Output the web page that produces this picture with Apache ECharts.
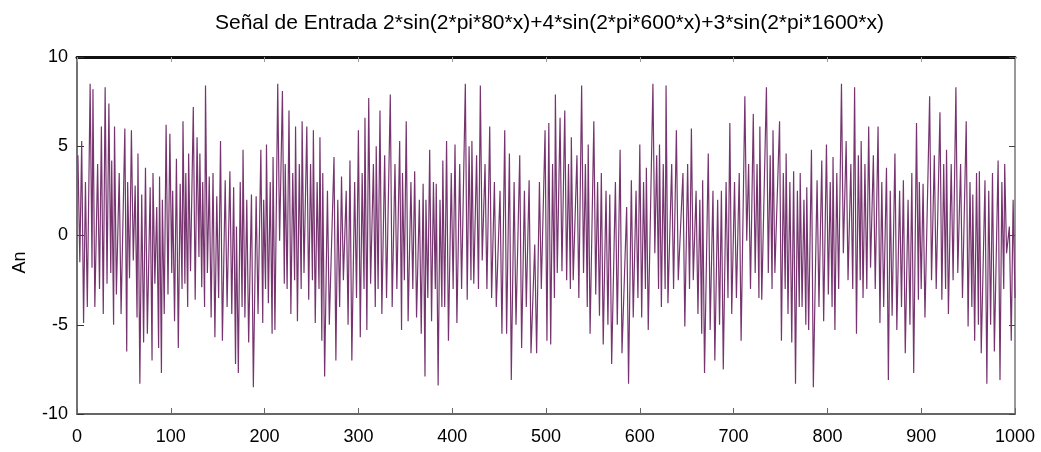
<!DOCTYPE html>
<html>
<head>
<meta charset="utf-8">
<title>Señal de Entrada</title>
<script src="https://cdn.jsdelivr.net/npm/echarts@6/dist/echarts.min.js"></script>
<style>
html, body { margin: 0; padding: 0; background: #fff; }
#main { width: 1041px; height: 452px; }
</style>
</head>
<body>
<div id="main"></div>
<script>
// each stroke of the trace: sample index, the top it reaches, then the bottom
var strokeX = [
  1, 5, 9, 14, 17, 22, 26, 30, 34, 37,
  40, 45, 51, 54, 58, 62, 65, 69, 73, 78,
  81, 85, 88, 91, 95, 99, 102, 106, 110, 113,
  116, 119, 124, 128, 131, 134, 137, 141, 145, 149,
  153, 158, 163, 167, 170, 174, 177, 181, 186, 191,
  196, 199, 202, 206, 209, 214, 219, 222, 226, 230,
  233, 237, 240, 245, 249, 252, 256, 259, 262, 267,
  274, 278, 282, 287, 291, 296, 300, 304, 307, 311,
  316, 319, 323, 328, 334, 339, 344, 347, 351, 356,
  360, 365, 369, 372, 376, 380, 383, 387, 390, 394,
  399, 403, 408, 414, 418, 421, 426, 430, 435, 440,
  445, 451, 456, 461, 466, 472, 477, 482, 488, 493,
  499, 503, 507, 510, 515, 520, 524, 527, 533, 538,
  542, 545, 551, 555, 559, 564, 568, 574, 579, 586,
  591, 596, 600, 604, 607, 614, 618, 621, 625, 628,
  634, 639, 646, 651, 655, 660, 664, 667, 673, 678,
  683, 687, 692, 696, 701, 706, 712, 716, 721, 725,
  728, 735, 739, 742, 749, 753, 756, 760, 764, 768,
  771, 775, 778, 783, 789, 794, 799, 803, 806, 810,
  815, 820, 825, 829, 833, 836, 840, 844, 849, 854,
  858, 863, 867, 872, 877, 881, 886, 890, 895, 898,
  902, 909, 914, 920, 924, 927, 932, 937, 942, 948,
  952, 955, 959, 962, 968, 972, 976, 982, 986, 989,
  994, 998
];
var strokeHigh = [
  4.5, 5.3, 3.0, 8.5, 8.2, 4.0, 6.1, 8.3, 7.4, 4.2,
  6.1, 3.5, 6.0, 3.0, 5.9, 2.8, 4.6, 2.3, 3.8, 2.7,
  3.5, 1.6, 3.3, 2.0, 6.2, 5.7, 2.5, 4.3, 2.9, 6.4,
  3.5, 4.6, 7.2, 5.5, 4.6, 3.0, 8.4, 3.3, 3.5, 2.2,
  5.3, 3.1, 3.6, 2.7, 0.5, 3.0, 4.8, 2.0, 2.3, 2.2,
  4.8, 2.0, 5.1, 3.0, 4.4, 8.5, 8.1, 4.0, 7.0, 3.5,
  6.1, 4.0, 6.4, 6.1, 4.0, 5.9, 3.0, 5.5, 3.5, 2.5,
  4.4, 2.0, 3.3, 2.5, 4.2, 3.0, 5.9, 3.5, 6.6, 7.7,
  4.0, 5.0, 7.0, 4.5, 7.9, 4.0, 5.3, 3.5, 6.4, 3.0,
  3.6, 2.0, 2.9, 2.0, 4.8, 3.0, 2.9, 2.0, 4.2, 5.3,
  3.5, 5.1, 4.0, 8.5, 5.0, 5.3, 4.5, 8.4, 4.0, 6.1,
  3.0, 2.5, 5.9, 4.6, 3.0, 4.5, 2.5, 3.1, -0.5, 3.0,
  5.9, 6.3, 4.0, 7.9, 6.6, 7.0, 4.0, 5.5, 4.5, 8.4,
  4.0, 5.1, 6.4, 3.0, 3.5, 2.5, 2.3, 3.0, 4.8, 1.6,
  3.1, 2.5, 5.1, 3.0, 3.8, 8.5, 4.5, 5.1, 4.0, 8.4,
  4.0, 5.9, 3.5, 4.0, 6.0, 2.5, 2.0, 3.1, 4.6, 2.5,
  2.0, 2.5, 3.0, 6.3, 3.0, 3.5, 7.8, 4.0, 6.8, 4.0,
  6.1, 8.3, 4.5, 5.9, 6.4, 3.5, 4.6, 3.0, 3.6, 2.5,
  3.5, 2.0, 2.7, 4.8, 3.1, 4.2, 5.1, 3.0, 4.4, 3.5,
  8.5, 5.3, 4.0, 8.3, 4.5, 5.3, 4.0, 6.1, 4.5, 6.1,
  3.0, 3.8, 2.5, 4.6, 2.5, 3.1, 2.0, 3.5, 6.3, 3.0,
  2.9, 7.8, 4.5, 6.9, 4.0, 4.8, 4.0, 8.3, 4.0, 6.4,
  3.0, 2.3, 3.5, 3.6, 3.1, 2.5, 3.5, 4.2, 3.0, 4.0,
  0.5, 2.0
];
var strokeLow = [
  -1.5, -4.9, -4.0, -1.8, -4.0, -3.0, -4.4, -2.7, -2.1, -5.0,
  -3.3, -4.4, -6.5, -2.4, -1.4, -4.6, -8.3, -6.0, -5.5, -7.0,
  -2.7, -6.3, -7.7, -4.4, -3.3, -2.1, -4.8, -6.3, -3.0, -2.7,
  -4.0, -2.0, -3.6, -1.2, -2.9, -4.0, -2.1, -4.6, -5.7, -3.5,
  -5.9, -4.0, -4.4, -7.2, -7.7, -4.0, -4.6, -6.0, -8.5, -4.4,
  -4.9, -3.0, -3.8, -5.5, -5.3, -0.3, -2.7, -3.0, -4.4, -2.5,
  -4.8, -3.0, -2.1, -3.6, -2.5, -4.9, -3.0, -5.9, -7.9, -5.0,
  -7.0, -4.0, -2.5, -5.0, -7.0, -3.5, -5.7, -3.0, -5.3, -2.7,
  -4.0, -3.0, -4.4, -3.5, -4.0, -3.0, -5.3, -2.5, -4.8, -3.0,
  -4.6, -5.5, -7.9, -3.5, -4.8, -3.0, -8.4, -4.0, -4.0, -5.9,
  -3.0, -4.9, -3.0, -3.6, -2.5, -2.7, -3.0, -1.4, -3.0, -3.5,
  -4.0, -5.5, -5.5, -8.1, -5.0, -6.3, -4.0, -6.6, -6.6, -3.0,
  -5.9, -6.1, -3.5, -2.1, -2.0, -2.5, -3.0, -2.5, -3.5, -2.1,
  -4.0, -5.5, -3.3, -4.5, -6.1, -5.0, -7.2, -5.0, -6.6, -8.3,
  -4.6, -3.5, -4.6, -3.0, -5.3, -1.0, -3.0, -4.0, -3.0, -3.8,
  -3.0, -2.5, -5.1, -3.0, -2.5, -4.4, -5.5, -7.7, -5.3, -7.0,
  -5.0, -7.5, -3.5, -4.4, -3.5, -5.9, -0.3, -3.0, -2.1, -3.5,
  -3.6, -2.1, -3.0, -2.1, -5.9, -3.0, -4.4, -6.0, -8.3, -4.0,
  -4.0, -5.0, -5.3, -8.5, -4.0, -4.8, -3.3, -4.0, -5.3, -3.0,
  -1.0, -2.5, -3.0, -5.5, -2.5, -3.5, -3.0, -1.8, -3.0, -4.9,
  -4.0, -8.1, -4.5, -5.3, -4.0, -6.6, -5.0, -7.7, -3.6, -3.0,
  -4.6, -2.5, -3.0, -3.6, -3.0, -4.4, -2.5, -2.1, -3.5, -5.1,
  -4.0, -5.9, -5.0, -6.6, -8.3, -5.0, -6.5, -8.1, -3.0, -1.0,
  -5.9, -3.5
];

var titleText = 'Señal de Entrada 2*sin(2*pi*80*x)+4*sin(2*pi*600*x)+3*sin(2*pi*1600*x)';
var yName = 'An';

// trace goes up to each top, then down to its bottom
var signal = [];
strokeX.forEach(function (x, i) {
  signal.push([x, strokeHigh[i]]);
  signal.push([x + 2, strokeLow[i]]);
});

var myChart = echarts.init(document.getElementById('main'));
var labelFont = { color: '#000', fontSize: 18, fontFamily: 'Liberation Sans, Arial' };

var option = {
  animation: false,
  backgroundColor: '#fff',
  // title sits centred over the plot box, not the whole page
  title: {
    text: titleText,
    left: 210,
    top: 8,
    textStyle: { color: '#000', fontSize: 21, fontWeight: 'normal', fontFamily: 'Liberation Sans, Arial' }
  },
  grid: { left: 77, right: 26, top: 57, bottom: 38 },
  xAxis: [
    {
      type: 'value',
      min: 0,
      max: 1000,
      interval: 100,
      position: 'bottom',
      axisLine: { onZero: false, lineStyle: { color: '#666', width: 2 } },
      axisTick: { inside: true, length: 6, lineStyle: { color: '#666' } },
      axisLabel: Object.assign({
        margin: 14,
        formatter: function (v) { return String(v); }
      }, labelFont),
      splitLine: { show: false }
    },
    {
      type: 'value',
      min: 0,
      max: 1000,
      interval: 100,
      position: 'top',
      axisLine: { onZero: false, lineStyle: { color: '#111', width: 3 } },
      axisTick: { inside: true, length: 5, lineStyle: { color: '#999' } },
      axisLabel: { show: false },
      splitLine: { show: false }
    }
  ],
  yAxis: [
    {
      type: 'value',
      min: -10,
      max: 10,
      interval: 5,
      position: 'left',
      name: yName,
      nameLocation: 'middle',
      nameGap: 48,
      nameTextStyle: { color: '#000', fontSize: 18, fontFamily: 'Liberation Sans, Arial', padding: [0, 54, 0, 0] },
      axisLine: { onZero: false, lineStyle: { color: '#444', width: 1.5 } },
      axisTick: { inside: true, length: 7, lineStyle: { color: '#333' } },
      axisLabel: Object.assign({ margin: 9 }, labelFont),
      splitLine: { show: false }
    },
    {
      type: 'value',
      min: -10,
      max: 10,
      interval: 5,
      position: 'right',
      axisLine: { onZero: false, lineStyle: { color: '#999', width: 2 } },
      axisTick: { inside: true, length: 6, lineStyle: { color: '#444' } },
      axisLabel: { show: false },
      splitLine: { show: false }
    }
  ],
  series: [
    {
      name: yName,
      type: 'line',
      xAxisIndex: 0,
      yAxisIndex: 0,
      data: signal,
      symbol: 'none',
      sampling: false,
      lineStyle: { color: '#773570', width: 1.2 }
    }
  ]
};

myChart.setOption(option);
</script>
</body>
</html>
